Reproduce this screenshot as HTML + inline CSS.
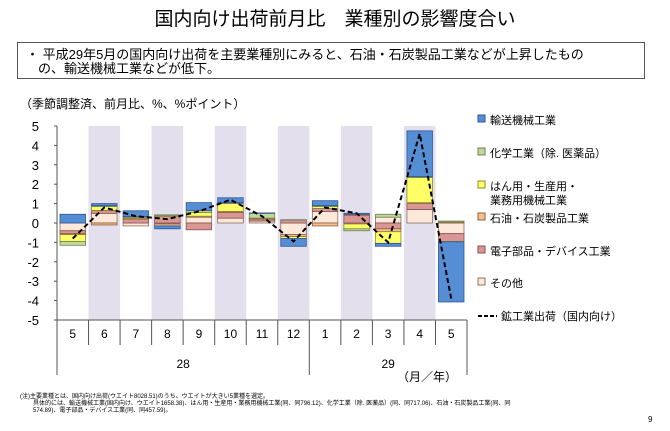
<!DOCTYPE html>
<html><head><meta charset="utf-8"><style>
body{margin:0;background:#fff;width:670px;height:426px;overflow:hidden;font-family:"Liberation Sans","Noto Sans CJK JP",sans-serif}
</style></head><body>
<svg id="c" width="670" height="426" xmlns="http://www.w3.org/2000/svg" font-family="'Liberation Sans','Noto Sans CJK JP',sans-serif">
<text x="335" y="25" font-size="19" text-anchor="middle">国内向け出荷前月比　業種別の影響度合い</text>
<rect x="17.5" y="42.5" width="627" height="36" fill="#fff" stroke="#555"/>
<text x="26" y="59" font-size="13">・ 平成29年5月の国内向け出荷を主要業種別にみると、石油・石炭製品工業などが上昇したもの</text>
<text x="38" y="73" font-size="13">の、輸送機械工業などが低下。</text>
<text x="20" y="108" font-size="12">（季節調整済、前月比、%、%ポイント）</text>
<g id="bands"></g><g id="bars"></g><g id="axis"></g><g id="line"></g><g id="legend"></g>
<text x="427" y="381" font-size="12" text-anchor="middle">（月／年）</text>
<text x="20" y="398" font-size="6">(注)主要業種とは、国内向け出荷(ウエイト8028.51)のうち、ウエイトが大きい5業種を選定。</text>
<text x="33" y="405" font-size="6">具体的には、輸送機械工業(国内向け、ウエイト1658.38)、はん用・生産用・業務用機械工業(同、同796.12)、化学工業（除. 医薬品）(同、同717.06)、石油・石炭製品工業(同、同</text>
<text x="33" y="412" font-size="6">574.89)、電子部品・デバイス工業(同、同457.59)。</text>
<text x="648" y="422" font-size="8">9</text>
</svg>
<script>
const months=["5","6","7","8","9","10","11","12","1","2","3","4","5"];
const yearLabels=["28","29"];
const yTicks=[5,4,3,2,1,0,-1,-2,-3,-4,-5];
const seriesNames=["その他","電子部品・デバイス工業","石油・石炭製品工業","はん用・生産用・業務用機械工業","化学工業（除. 医薬品）","輸送機械工業"];
const other=[-0.4,0.5,-0.15,-0.05,0.3,0.25,0.1,-0.6,0.6,-0.05,0.3,0.7,-0.55];
const electronics=[-0.15,0.15,0.2,0.35,-0.35,0.3,0.1,0.15,0.15,0.4,-0.3,0.3,-0.4];
const petroleum=[-0.05,-0.1,0.05,-0.1,0.05,0.05,0.03,-0.1,-0.15,0.05,-0.15,0.05,0.05];
const machinery=[-0.35,0.2,0.05,0.02,0.2,0.4,0.02,-0.1,0.1,-0.25,-0.6,1.3,-0.02];
const chemical=[-0.2,0.05,0.03,0.05,0.1,0.05,0.25,0.02,0.05,-0.1,0.15,0.05,0.05];
const transport=[0.45,0.1,0.3,-0.15,0.4,0.25,0.02,-0.4,0.25,0.05,-0.15,2.35,-3.1];
const total=[-0.8,0.8,0.35,0.2,0.6,1.2,0.35,-0.95,0.8,0.5,-1.0,4.6,-3.9];
const series=[other,electronics,petroleum,machinery,chemical,transport];
const fills=["#fde9d9","#da9694","#fac090","#ffff66","#c4d79b","#558ed5"];
const strokes=["#8a7060","#8a5050","#8a6040","#8a8a30","#6a8050","#2f5597"];
const legendOrder=[5,4,3,2,1,0];
const NS="http://www.w3.org/2000/svg";
const X0=57,X1=467,Y0=126,Y1=320,YMIN=-5,YMAX=5;
const cw=(X1-X0)/months.length;
const xs=i=>X0+cw*i;
const ys=v=>Y0+(YMAX-v)/(YMAX-YMIN)*(Y1-Y0);
function mk(t,a,p){const e=document.createElementNS(NS,t);for(const k in a)e.setAttribute(k,a[k]);p.appendChild(e);return e;}
const bands=document.getElementById('bands'),bars=document.getElementById('bars'),ax=document.getElementById('axis'),ln=document.getElementById('line'),lg=document.getElementById('legend');
months.forEach((m,i)=>{if(i%2==1){const r=mk('rect',{x:xs(i),y:Y0,width:cw,height:Y1-Y0,fill:'#e4dfec'},bands);

}});
months.forEach((m,i)=>{let pos=0,neg=0;
series.forEach((s,k)=>{const v=s[i];let a,b;if(v>=0){a=pos;b=pos+v;pos=b;}else{a=neg;b=neg+v;neg=b;}
const r=mk('rect',{x:xs(i)+3,y:Math.min(ys(a),ys(b)),width:cw-6,height:Math.abs(ys(a)-ys(b)),fill:fills[k],stroke:strokes[k],'stroke-width':0.8},bars);

});});
mk('line',{x1:X0,y1:Y0,x2:X0,y2:Y1,stroke:'#555'},ax);
yTicks.forEach(v=>{mk('line',{x1:X0-3,y1:ys(v),x2:X0,y2:ys(v),stroke:'#555'},ax);
const t=mk('text',{x:X0-18,y:ys(v)+5,'font-size':13,'text-anchor':'end'},ax);t.textContent=v;

});
mk('line',{x1:X0,y1:Y1,x2:X1,y2:Y1,stroke:'#555'},ax);
for(let i=0;i<=months.length;i++)mk('line',{x1:xs(i),y1:Y1,x2:xs(i),y2:345,stroke:'#555'},ax);
[0,8,13].forEach(i=>mk('line',{x1:xs(i),y1:345,x2:xs(i),y2:375,stroke:'#555'},ax));
months.forEach((m,i)=>{const t=mk('text',{x:xs(i)+cw/2,y:338,'font-size':12,'text-anchor':'middle'},ax);t.textContent=m;

});
[[0,8],[8,13]].forEach((r,j)=>{const t=mk('text',{x:(xs(r[0])+xs(r[1]))/2,y:368,'font-size':12,'text-anchor':'middle'},ax);t.textContent=yearLabels[j];

});
const p=mk('polyline',{points:total.map((v,i)=>(xs(i)+cw/2)+','+ys(v)).join(' '),fill:'none',stroke:'#000','stroke-width':2,'stroke-dasharray':'5,3'},ln);


const ly=[120,153,186,218,251,283];
legendOrder.forEach((k,j)=>{const g=mk('g',{},lg);


mk('rect',{x:478,y:ly[j]-5,width:7,height:7,fill:fills[k],stroke:strokes[k]},g);
if(k==3){const t=mk('text',{x:490,y:ly[j]+4+0,'font-size':11},g);t.textContent='はん用・生産用・';const t2=mk('text',{x:490,y:ly[j]+18,'font-size':11},g);t2.textContent='業務用機械工業';}
else{const t=mk('text',{x:490,y:ly[j]+4,'font-size':11},g);t.textContent=k==2?'石油・石炭製品工業':seriesNames[k];}});
(function(){const g=mk('g',{},lg);


mk('line',{x1:478,y1:316,x2:497,y2:316,stroke:'#000','stroke-width':2,'stroke-dasharray':'4,2'},g);
const t=mk('text',{x:501,y:320,'font-size':11},g);t.textContent='鉱工業出荷（国内向け）';})();
</script>
</body></html>
